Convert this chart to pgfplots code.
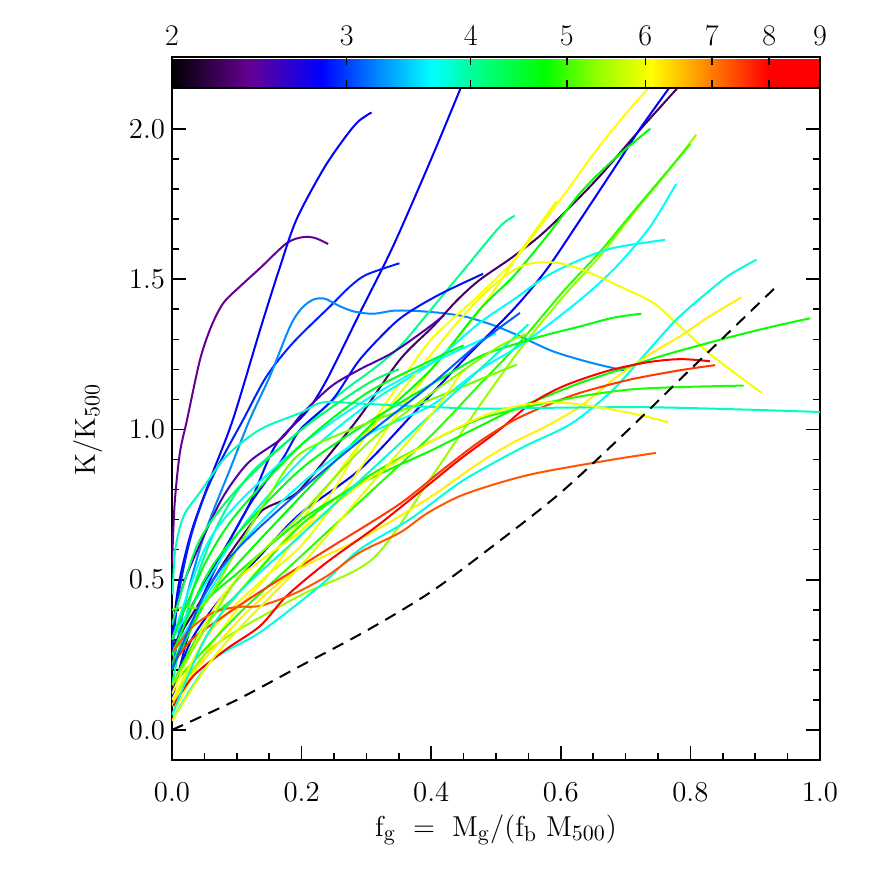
\documentclass[border=0pt]{standalone}
\usepackage{pgfplots}
\pgfplotsset{compat=1.18}
\begin{document}
\begin{tikzpicture}
\pgfplotsset{
  colormap={idl}{rgb(0cm)=(0,0,0); rgb(1.2cm)=(0.40,0,0.58); rgb(2.3cm)=(0,0,1);
    rgb(3.2cm)=(0,0.55,1); rgb(4cm)=(0,1,1); rgb(4.8cm)=(0,1,0.5); rgb(5.75cm)=(0,1,0);
    rgb(6.6cm)=(0.6,1,0); rgb(7.4cm)=(1,1,0); rgb(8.4cm)=(1,0.45,0); rgb(9.2cm)=(1,0,0);
    rgb(10cm)=(1,0,0)},
  k/.style={color of colormap=#1, line width=1pt, smooth},
}
\useasboundingbox (-86pt,-56pt) rectangle (350pt,380pt);
\begin{axis}[
    scale only axis, width=324pt, height=337pt,
    xmin=0, xmax=1, ymin=-0.1, ymax=2.143,
    xtick={0,0.2,...,1.0}, ytick={0,0.5,...,2.0},
    minor x tick num=3, minor y tick num=4,
    tick align=inside, xtick pos=left, ytick pos=both, yticklabel pos=left,
    major tick length=7pt, minor tick length=3.5pt,
    axis line style={line width=1pt},
    every tick/.style={line width=0.8pt, black},
    xticklabel style={yshift=-8pt, /pgf/number format/fixed, /pgf/number format/fixed zerofill, /pgf/number format/precision=1},
    yticklabel style={/pgf/number format/fixed, /pgf/number format/fixed zerofill, /pgf/number format/precision=1},
    tick label style={font=\fontsize{15}{18}\selectfont},
    label style={font=\fontsize{15}{18}\selectfont},
    xlabel={$\mathrm{f_g\ =\ M_g/(f_b\ M_{500})}$},
    ylabel={$\mathrm{K/K_{500}}$},
    xlabel style={at={(axis description cs:0.5,-0.104)}, anchor=center},
    ylabel style={at={(axis description cs:-0.13,0.49)}, anchor=center},
    point meta min=0.30103, point meta max=0.95424,
    colorbar horizontal,
    colorbar style={at={(parent axis.north west)}, anchor=south west, yshift=7.75pt,
        width=324pt, height=15.5pt, scale only axis,
        xtick={0.30103,0.47712,0.60206,0.69897,0.77815,0.84510,0.90309,0.95424},
        xticklabels={2,3,4,5,6,7,8,9}, scaled x ticks=false,
        xtick pos=both, xticklabel pos=upper, ytick=\empty,
        tick align=inside, major tick length=4pt,
        axis line style={line width=1pt},
        every tick/.style={line width=0.8pt, black},
        xticklabel style={font=\fontsize{15}{18}\selectfont, yshift=2pt}},
]
%% purple hook
\addplot[k=120] coordinates {(0,0.55) (0.004,0.75) (0.012,0.92) (0.023,1.03) (0.043,1.23) (0.06,1.34) (0.079,1.42) (0.105,1.476) (0.136,1.537) (0.177,1.62) (0.202,1.64) (0.221,1.637) (0.241,1.617)};
%% blue, steep short
\addplot[k=230] coordinates {(0,0.30) (0.01,0.48) (0.03,0.66) (0.06,0.84) (0.094,1.033) (0.136,1.332) (0.165,1.53) (0.192,1.698) (0.233,1.864) (0.264,1.963) (0.287,2.024) (0.308,2.055)};
\addplot[k=230] coordinates {(0.005,0.26) (0.02,0.37) (0.066,0.546) (0.118,0.745) (0.159,0.944) (0.208,1.06) (0.239,1.166) (0.29,1.388) (0.341,1.609) (0.40,1.9) (0.45,2.16)};
\addplot[k=250] coordinates {(0,0.25) (0.01,0.45) (0.03,0.65) (0.06,0.83) (0.11,1.033) (0.146,1.177) (0.187,1.289) (0.244,1.41) (0.275,1.476) (0.30,1.515) (0.351,1.553)};
%% sky blue plateau
\addplot[k=320] coordinates {(0,0.2) (0.02,0.42) (0.05,0.65) (0.09,0.87) (0.12,1.033) (0.151,1.177) (0.182,1.342) (0.200,1.403) (0.218,1.432) (0.236,1.435) (0.259,1.41) (0.282,1.392) (0.311,1.385) (0.341,1.395) (0.372,1.395) (0.414,1.388) (0.447,1.378) (0.47,1.365) (0.501,1.343) (0.537,1.31) (0.588,1.26) (0.645,1.223) (0.70,1.195)};
\addplot[k=470] coordinates {(0,0.15) (0.03,0.45) (0.07,0.68) (0.12,0.85) (0.2,1.0) (0.26,1.12) (0.31,1.2) (0.352,1.277) (0.40,1.4) (0.45,1.53) (0.506,1.675) (0.529,1.711)};
\addplot[k=240] coordinates {(0,0.1) (0.03,0.35) (0.07,0.55) (0.12,0.75) (0.17,0.9) (0.198,1.0) (0.248,1.10) (0.29,1.233) (0.341,1.349) (0.372,1.399) (0.418,1.455) (0.48,1.518)};
%% dark purple long
\addplot[k=80] coordinates {(0.002,0.28) (0.033,0.39) (0.084,0.57) (0.131,0.71) (0.146,0.74) (0.187,0.78) (0.21,0.83) (0.248,0.93) (0.29,1.044) (0.352,1.233) (0.403,1.343) (0.44,1.43) (0.475,1.498) (0.527,1.576) (0.578,1.664) (0.655,1.831) (0.722,1.997) (0.79,2.16)};
\addplot[k=140] coordinates {(0,0.35) (0.02,0.5) (0.05,0.65) (0.08,0.78) (0.118,0.89) (0.169,0.97) (0.2,1.05) (0.246,1.144) (0.29,1.2) (0.34,1.255) (0.39,1.33) (0.42,1.38)};
%% blue long
\addplot[k=230] coordinates {(0,0.12) (0.03,0.3) (0.08,0.45) (0.136,0.58) (0.198,0.72) (0.29,0.867) (0.378,1.066) (0.455,1.243) (0.527,1.40) (0.578,1.532) (0.630,1.698) (0.691,1.897) (0.722,2.0) (0.775,2.16)};
%% yellow to top
\addplot[k=740] coordinates {(0,0.05) (0.05,0.25) (0.1,0.4) (0.15,0.52) (0.198,0.657) (0.25,0.8) (0.30,0.99) (0.35,1.15) (0.40,1.30) (0.465,1.43) (0.527,1.56) (0.568,1.675) (0.614,1.808) (0.655,1.93) (0.696,2.04) (0.745,2.16)};
\addplot[k=730] coordinates {(0,0.08) (0.05,0.3) (0.1,0.42) (0.15,0.52) (0.198,0.61) (0.25,0.75) (0.3,0.9) (0.35,1.06) (0.4,1.2) (0.486,1.43) (0.54,1.6) (0.593,1.758)};
%% green to 2.0
\addplot[k=575] coordinates {(0,0.2) (0.05,0.42) (0.1,0.55) (0.2,0.78) (0.3,1.0) (0.4,1.2) (0.475,1.399) (0.527,1.51) (0.578,1.642) (0.630,1.787) (0.681,1.897) (0.738,2.001)};
\addplot[k=660] coordinates {(0,0.1) (0.05,0.25) (0.1,0.33) (0.2,0.45) (0.31,0.57) (0.4,0.84) (0.475,1.08) (0.537,1.266) (0.604,1.443) (0.660,1.576) (0.712,1.719) (0.763,1.853) (0.809,1.981)};
\addplot[k=600] coordinates {(0,0.15) (0.1,0.38) (0.2,0.58) (0.3,0.78) (0.4,0.98) (0.475,1.15) (0.537,1.29) (0.604,1.46) (0.660,1.59) (0.712,1.725) (0.763,1.855) (0.800,1.95)};
%% cyan
\addplot[k=400] coordinates {(0,0.25) (0.1,0.6) (0.2,0.82) (0.3,0.98) (0.4,1.08) (0.475,1.199) (0.527,1.266) (0.578,1.343) (0.645,1.459) (0.691,1.554) (0.738,1.675) (0.778,1.817)};
\addplot[k=410] coordinates {(0,0.3) (0.1,0.65) (0.2,0.9) (0.3,1.08) (0.4,1.22) (0.475,1.355) (0.527,1.432) (0.578,1.51) (0.630,1.565) (0.681,1.604) (0.761,1.631)};
%% yellow arc
\addplot[k=730] coordinates {(0,0.1) (0.05,0.3) (0.1,0.45) (0.2,0.7) (0.3,0.98) (0.4,1.25) (0.45,1.38) (0.491,1.47) (0.527,1.53) (0.552,1.552) (0.58,1.556) (0.604,1.551) (0.645,1.521) (0.696,1.471) (0.743,1.421) (0.784,1.343) (0.835,1.243) (0.91,1.122)};
\addplot[k=420] coordinates {(0.002,0.04) (0.059,0.226) (0.136,0.325) (0.228,0.479) (0.290,0.601) (0.367,0.701) (0.444,0.823) (0.506,0.90) (0.55,0.95) (0.60,1.0) (0.63,1.04) (0.681,1.133) (0.732,1.255) (0.778,1.365) (0.825,1.454) (0.861,1.515) (0.902,1.565)};
\addplot[k=750] coordinates {(0.002,0.10) (0.033,0.192) (0.110,0.38) (0.187,0.524) (0.290,0.635) (0.393,0.767) (0.475,0.89) (0.527,0.957) (0.578,1.011) (0.630,1.077) (0.681,1.166) (0.732,1.243) (0.784,1.310) (0.830,1.377) (0.879,1.44)};
%% greens, flatter
\addplot[k=580] coordinates {(0,0.22) (0.05,0.42) (0.1,0.52) (0.2,0.7) (0.3,0.83) (0.4,0.93) (0.475,1.011) (0.527,1.066) (0.578,1.11) (0.630,1.155) (0.691,1.199) (0.753,1.243) (0.809,1.277) (0.866,1.31) (0.928,1.343) (0.985,1.37)};
\addplot[k=560] coordinates {(0,0.25) (0.05,0.5) (0.1,0.65) (0.2,0.87) (0.3,1.02) (0.4,1.15) (0.475,1.243) (0.527,1.282) (0.578,1.315) (0.630,1.343) (0.681,1.372) (0.724,1.385)};
\addplot[k=640] coordinates {(0,0.40) (0.02,0.41) (0.05,0.42) (0.1,0.6) (0.15,0.78) (0.198,0.92) (0.3,1.02) (0.4,1.1) (0.475,1.166) (0.532,1.216)};
%% red and orange
\addplot[k=950] coordinates {(0.002,0.08) (0.033,0.18) (0.084,0.269) (0.136,0.346) (0.177,0.446) (0.239,0.558) (0.316,0.678) (0.393,0.811) (0.444,0.90) (0.506,1.0) (0.552,1.083) (0.604,1.144) (0.671,1.194) (0.732,1.223) (0.784,1.234) (0.830,1.227)};
\addplot[k=880] coordinates {(0.002,0.22) (0.03,0.3) (0.074,0.37) (0.136,0.46) (0.239,0.6) (0.35,0.75) (0.42,0.87) (0.475,0.96) (0.527,1.03) (0.578,1.08) (0.630,1.122) (0.707,1.166) (0.784,1.197) (0.838,1.214)};
\addplot[k=590] coordinates {(0,0.15) (0.05,0.35) (0.1,0.45) (0.198,0.68) (0.3,0.84) (0.4,0.96) (0.475,1.035) (0.552,1.077) (0.630,1.11) (0.707,1.133) (0.784,1.141) (0.882,1.146)};
%% cyan flat, long
\addplot[k=440] coordinates {(0.001,0.45) (0.005,0.60) (0.018,0.712) (0.043,0.79) (0.084,0.911) (0.136,1.0) (0.198,1.055) (0.233,1.09) (0.3,1.085) (0.4,1.075) (0.475,1.069) (0.578,1.072) (0.732,1.074) (0.887,1.066) (1.0,1.058)};
\addplot[k=745] coordinates {(0,0.12) (0.05,0.35) (0.1,0.5) (0.198,0.66) (0.3,0.83) (0.4,0.96) (0.475,1.04) (0.527,1.075) (0.578,1.09) (0.630,1.083) (0.707,1.055) (0.766,1.024)};
\addplot[k=860] coordinates {(0.002,0.26) (0.028,0.336) (0.064,0.391) (0.100,0.409) (0.136,0.413) (0.187,0.452) (0.239,0.512) (0.290,0.591) (0.352,0.657) (0.393,0.72) (0.444,0.778) (0.506,0.823) (0.568,0.857) (0.681,0.90) (0.747,0.922)};
%% more in the bundle
\addplot[k=400] coordinates {(0,0.3) (0.05,0.6) (0.1,0.75) (0.2,0.95) (0.3,1.1) (0.4,1.22) (0.5,1.32)};
\addplot[k=560] coordinates {(0,0.3) (0.05,0.55) (0.1,0.72) (0.2,0.95) (0.3,1.12) (0.4,1.23) (0.45,1.28)};
\addplot[k=430] coordinates {(0,0.05) (0.05,0.3) (0.1,0.45) (0.2,0.65) (0.3,0.85) (0.4,1.05) (0.475,1.2) (0.55,1.35)};
\addplot[k=500] coordinates {(0,0.35) (0.04,0.62) (0.1,0.8) (0.2,1.0) (0.3,1.15) (0.35,1.2)};
\addplot[k=720] coordinates {(0,0.03) (0.05,0.2) (0.1,0.33) (0.2,0.55) (0.3,0.8) (0.4,1.05) (0.45,1.2)};
\addplot[k=650] coordinates {(0,0.15) (0.1,0.5) (0.2,0.72) (0.3,0.95) (0.4,1.12) (0.5,1.27) (0.55,1.32)};
\addplot[k=290] coordinates {(0,0.2) (0.05,0.45) (0.1,0.6) (0.2,0.8) (0.3,0.98) (0.4,1.15) (0.47,1.28) (0.537,1.388)};
%% reference power law
\addplot[black, line width=1pt, dash pattern=on 6pt off 4pt, smooth] coordinates {(0,0) (0.1,0.1) (0.2,0.215) (0.3,0.33) (0.4,0.46) (0.5,0.62) (0.6,0.79) (0.7,0.99) (0.8,1.2) (0.93,1.47)};
\end{axis}
\end{tikzpicture}
\end{document}
